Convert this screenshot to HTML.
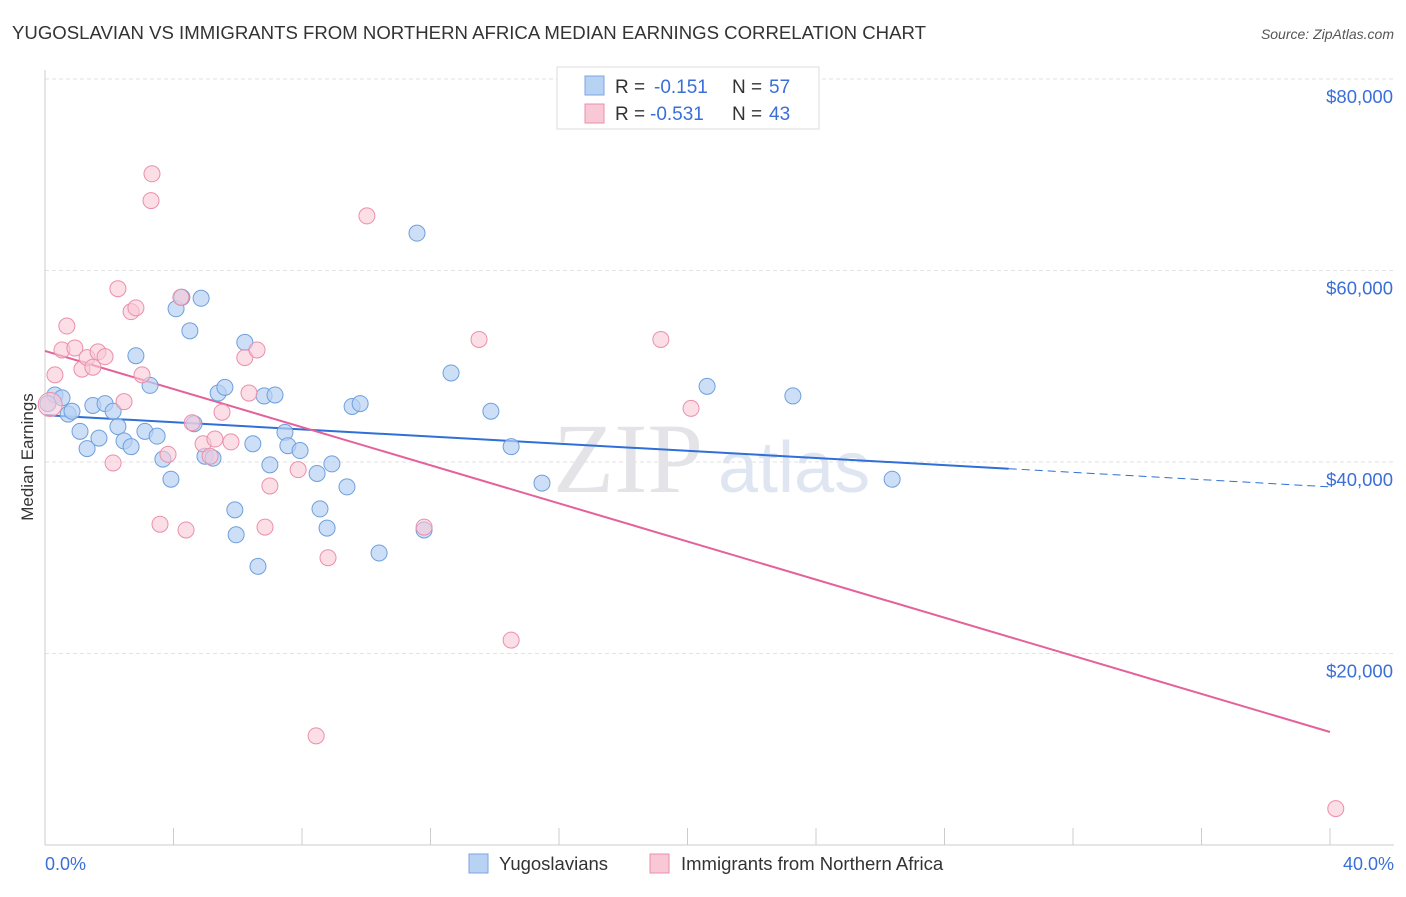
<!DOCTYPE html>
<html><head><meta charset="utf-8"><style>
body{margin:0;background:#fff;font-family:"Liberation Sans",sans-serif}
</style></head><body>
<svg width="1406" height="892" xmlns="http://www.w3.org/2000/svg" font-family="Liberation Sans, sans-serif">
<text x="12" y="39" font-size="18.6" fill="#333">YUGOSLAVIAN VS IMMIGRANTS FROM NORTHERN AFRICA MEDIAN EARNINGS CORRELATION CHART</text>
<text x="1394" y="39" font-size="14" fill="#555" font-style="italic" text-anchor="end">Source: ZipAtlas.com</text>
<text x="553" y="492" font-size="100" fill="#e4e4e8" font-family="Liberation Serif, serif">ZIP</text>
<text x="718" y="492" font-size="72" fill="#dfe6f2">atlas</text>
<g id="grid"></g>
<line x1="45" y1="70" x2="45" y2="845" stroke="#ccc"/>
<line x1="45" y1="845" x2="1394" y2="845" stroke="#ccc"/>
<text x="33" y="457" font-size="17" fill="#333" transform="rotate(-90 33 457)" text-anchor="middle">Median Earnings</text>
<text x="45" y="870" font-size="18" fill="#3a6fd8">0.0%</text>
<text x="1394" y="870" font-size="18" fill="#3a6fd8" text-anchor="end">40.0%</text>
<g id="lines"></g>
<g id="pts"></g>
<g>
<rect x="557" y="67" width="262" height="62" fill="#fff" stroke="#ddd"/>
<rect x="585" y="76" width="19" height="19" fill="#b8d2f3" stroke="#7aa6e0"/>
<rect x="585" y="104" width="19" height="19" fill="#f8c8d6" stroke="#eb8fab"/>
<text x="615" y="93" font-size="19" fill="#333">R =</text><text x="654" y="93" font-size="19" fill="#3a6fd8">-0.151</text>
<text x="732" y="93" font-size="19" fill="#333">N =</text><text x="769" y="93" font-size="19" fill="#3a6fd8">57</text>
<text x="615" y="120" font-size="19" fill="#333">R =</text><text x="650" y="120" font-size="19" fill="#3a6fd8">-0.531</text>
<text x="732" y="120" font-size="19" fill="#333">N =</text><text x="769" y="120" font-size="19" fill="#3a6fd8">43</text>
</g>
<g>
<rect x="469" y="854" width="19" height="19" fill="#b8d2f3" stroke="#7aa6e0"/>
<text x="499" y="870" font-size="18.5" fill="#333">Yugoslavians</text>
<rect x="650" y="854" width="19" height="19" fill="#f8c8d6" stroke="#eb8fab"/>
<text x="681" y="870" font-size="18.5" fill="#333">Immigrants from Northern Africa</text>
</g>
</svg>
<script>
const yTicks=[20000,40000,60000,80000];
const yTickLabels=["$20,000","$40,000","$60,000","$80,000"];
const xTicks=[0,4,8,12,16,20,24,28,32,36,40];
const blueX=[0.31,0.53,0.72,0.84,1.09,1.31,1.49,1.68,1.87,2.12,2.27,2.46,2.68,2.83,3.11,3.27,3.49,3.67,3.92,4.08,4.26,4.51,4.64,4.86,4.98,5.23,5.39,5.60,5.91,5.95,6.22,6.47,6.63,6.82,7.00,7.16,7.47,7.56,7.94,8.47,8.56,8.78,8.93,9.40,9.56,9.81,10.40,11.58,11.80,12.64,13.88,14.51,15.47,20.61,23.28,26.37,0.09];
const blueY=[47000,46700,45000,45300,43200,41400,45900,42500,46100,45300,43700,42200,41600,51100,43200,48000,42700,40300,38200,56000,57200,53700,44000,57100,40600,40400,47200,47800,35000,32400,52500,41900,29100,46900,39700,47000,43100,41700,41200,38800,35100,33100,39800,37400,45800,46100,30500,63900,32900,49300,45300,41600,37800,47900,46900,38200,46100];
const pinkX=[0.16,0.31,0.53,0.68,0.93,1.15,1.31,1.49,1.65,1.87,2.12,2.27,2.46,2.68,2.83,3.02,3.33,3.30,3.58,3.83,4.23,4.39,4.58,4.92,5.14,5.29,5.51,5.79,6.22,6.35,6.60,6.85,7.00,7.88,8.44,8.81,10.02,11.80,13.51,14.51,19.17,20.11,40.18];
const pinkY=[46000,49100,51700,54200,51900,49700,50900,49900,51500,51000,39900,58100,46300,55700,56100,49100,70100,67300,33500,40800,57200,32900,44100,41900,40600,42400,45200,42100,50900,47200,51700,33200,37500,39200,11400,30000,65700,33200,52800,21400,52800,45600,3800];
const blueFit=[44900,39300,37400];
const pinkFit=[51600,11800];
const NS="http://www.w3.org/2000/svg";
const xs=v=>45+v/40*1285, ys=v=>845-v/20000*191.5;
function mk(t,a,p){const e=document.createElementNS(NS,t);for(const k in a)e.setAttribute(k,a[k]);p.appendChild(e);return e;}
const grid=document.getElementById('grid');
yTicks.forEach((t,i)=>{
 const l=mk('line',{x1:45,x2:1394,y1:ys(t),y2:ys(t),stroke:'#e2e2e2','stroke-dasharray':'4 3'},grid);
 
 
 const tx=mk('text',{x:1393,y:ys(t)+24,'font-size':18.5,fill:'#3a6fd8','text-anchor':'end'},grid);
 tx.textContent=yTickLabels[i];
 
 
});
xTicks.forEach(t=>{
 const l=mk('line',{x1:xs(t),x2:xs(t),y1:828,y2:845,stroke:'#ccc'},grid);
 
 
});
const pts=document.getElementById('pts');
blueX.forEach((x,i)=>{
 const c=mk('circle',{cx:xs(x),cy:ys(blueY[i]),r:8,fill:'#b8d2f3','fill-opacity':0.7,stroke:'#6f9fdc','stroke-width':1},pts);
 
 
});
pinkX.forEach((x,i)=>{
 const c=mk('circle',{cx:xs(x),cy:ys(pinkY[i]),r:i==0?12:8,fill:'#f8c8d6','fill-opacity':0.6,stroke:'#eb8fab','stroke-width':1},pts);
 
 
});
const lines=document.getElementById('lines');
const b1=mk('line',{x1:xs(0),y1:ys(blueFit[0]),x2:xs(30),y2:ys(blueFit[1]),stroke:'#2f6fd6','stroke-width':2},lines);


const b2=mk('line',{x1:xs(30),y1:ys(blueFit[1]),x2:xs(40),y2:ys(blueFit[2]),stroke:'#2f6fd6','stroke-width':1,'stroke-dasharray':'8 5'},lines);


const p1=mk('line',{x1:xs(0),y1:ys(pinkFit[0]),x2:xs(40),y2:ys(pinkFit[1]),stroke:'#e4619a','stroke-width':2},lines);


</script>
</body></html>
